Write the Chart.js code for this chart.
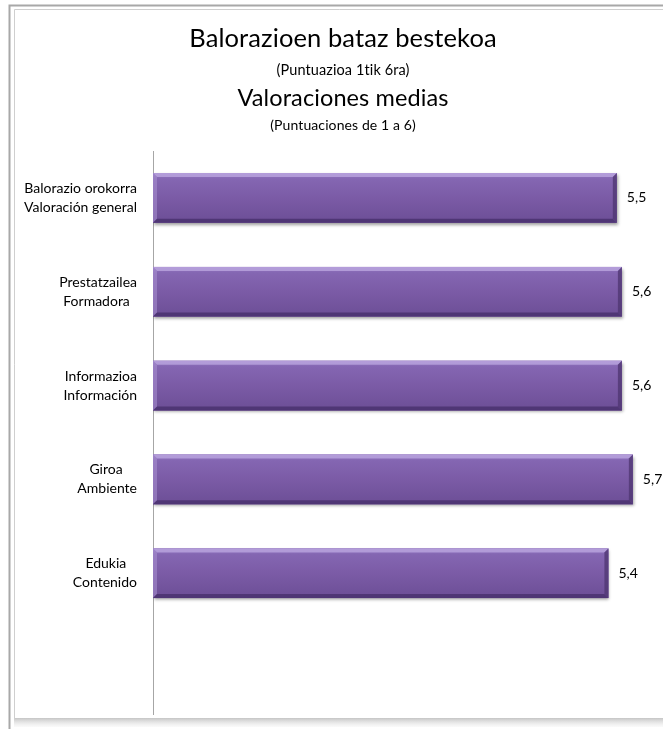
<!DOCTYPE html>
<html>
<head>
<meta charset="utf-8">
<script src="https://cdn.jsdelivr.net/npm/chart.js@4.4.1/dist/chart.umd.min.js"></script>
<style>
  html, body { margin: 0; padding: 0; background: #ffffff; }
  #wrap { position: relative; width: 663px; height: 729px; }
</style>
</head>
<body>
<div id="wrap"><canvas id="c" width="663" height="729"></canvas></div>
<script>
// ---- Data ----
const categoriesEu = ['Balorazio orokorra', 'Prestatzailea', 'Informazioa', 'Giroa', 'Edukia', ''];
const categoriesEs = ['Valoración general', 'Formadora', 'Información', 'Ambiente', 'Contenido', ''];
const values = [5.50, 5.56, 5.56, 5.69, 5.40, null];
const titleLines = ['Balorazioen bataz bestekoa', '(Puntuazioa 1tik 6ra)', 'Valoraciones medias', '(Puntuaciones de 1 a 6)'];

const FONT = 'Lato, "Open Sans", sans-serif';
const TICK_SIZE = 14;

const measureCtx = document.createElement('canvas').getContext('2d');
function centeredLines(a, b) {
  measureCtx.font = TICK_SIZE + 'px ' + FONT;
  const wa = measureCtx.measureText(a).width;
  const wb = measureCtx.measureText(b).width;
  const ws = measureCtx.measureText(' ').width;
  const n = Math.max(0, Math.round(Math.abs(wa - wb) / 2 / ws));
  const pad = ' '.repeat(n);
  if (wa < wb) return [a + pad, b];
  return [a, b + pad];
}

const framePlugin = {
  id: 'frame',
  beforeDraw(chart) {
    const ctx = chart.ctx;
    ctx.save();
    ctx.fillStyle = '#ffffff';
    ctx.fillRect(0, 0, chart.width, chart.height);
    const g = ctx.createLinearGradient(0, 718, 0, 727);
    g.addColorStop(0, 'rgba(150,150,150,0.55)');
    g.addColorStop(1, 'rgba(230,230,230,0.2)');
    ctx.fillStyle = g;
    ctx.fillRect(14, 718, chart.width, 9);
    ctx.strokeStyle = '#a8a8a8';
    ctx.lineWidth = 2;
    ctx.beginPath();
    ctx.moveTo(9.5, 729);
    ctx.lineTo(9.5, 5.5);
    ctx.lineTo(chart.width + 5, 5.5);
    ctx.stroke();
    ctx.strokeStyle = '#cfcfcf';
    ctx.lineWidth = 1;
    ctx.beginPath();
    ctx.moveTo(14.5, 719);
    ctx.lineTo(14.5, 9.5);
    ctx.lineTo(chart.width + 5, 9.5);
    ctx.stroke();
    ctx.restore();
  }
};

const titlePlugin = {
  id: 'titleBlock',
  afterDraw(chart) {
    const ctx = chart.ctx;
    const cx = 343;
    const spec = [
      { size: 25.5, y: 39 },
      { size: 14.5, y: 70 },
      { size: 23.5, y: 98 },
      { size: 14, y: 125 }
    ];
    ctx.save();
    ctx.fillStyle = '#000000';
    ctx.textAlign = 'center';
    ctx.textBaseline = 'middle';
    titleLines.forEach((t, i) => {
      ctx.font = spec[i].size + 'px ' + FONT;
      ctx.letterSpacing = '0.1px';
      ctx.fillText(t, cx, spec[i].y);
    });
    ctx.restore();
  }
};

const barStylePlugin = {
  id: 'barStyle',
  beforeDatasetDraw(chart) {
    const ctx = chart.ctx;
    ctx.save();
    ctx.shadowColor = 'rgba(0,0,0,0.38)';
    ctx.shadowBlur = 3;
    ctx.shadowOffsetX = 1;
    ctx.shadowOffsetY = 2;
  },
  afterDatasetDraw(chart, args) {
    const ctx = chart.ctx;
    ctx.restore();
    const meta = chart.getDatasetMeta(args.index);
    ctx.save();
    meta.data.forEach((el, i) => {
      if (values[i] == null) return;
      const left = Math.min(el.base, el.x);
      const right = Math.max(el.base, el.x);
      const top = el.y - el.height / 2;
      const bot = el.y + el.height / 2;
      const w = right - left, h = bot - top;
      const g = ctx.createLinearGradient(0, top, 0, bot);
      g.addColorStop(0, '#9478c2');
      g.addColorStop(0.12, '#8466b2');
      g.addColorStop(0.5, '#7b5ba6');
      g.addColorStop(1, '#6c4e96');
      ctx.fillStyle = g;
      ctx.fillRect(left, top, w, h);
      const b = 4;
      ctx.fillStyle = 'rgba(190,170,225,0.75)';
      ctx.beginPath();
      ctx.moveTo(left, top); ctx.lineTo(right, top); ctx.lineTo(right - b, top + b); ctx.lineTo(left + b, top + b); ctx.closePath();
      ctx.fill();
      ctx.fillStyle = 'rgba(170,145,210,0.55)';
      ctx.beginPath();
      ctx.moveTo(left, top); ctx.lineTo(left + b, top + b); ctx.lineTo(left + b, bot - b); ctx.lineTo(left, bot); ctx.closePath();
      ctx.fill();
      ctx.fillStyle = 'rgba(70,45,105,0.75)';
      ctx.beginPath();
      ctx.moveTo(left, bot); ctx.lineTo(left + b, bot - b); ctx.lineTo(right - b, bot - b); ctx.lineTo(right, bot); ctx.closePath();
      ctx.fill();
      ctx.fillStyle = 'rgba(80,55,115,0.8)';
      ctx.beginPath();
      ctx.moveTo(right, top); ctx.lineTo(right, bot); ctx.lineTo(right - b, bot - b); ctx.lineTo(right - b, top + b); ctx.closePath();
      ctx.fill();
      ctx.fillStyle = '#000000';
      ctx.font = TICK_SIZE + 'px ' + FONT;
      ctx.textAlign = 'left';
      ctx.textBaseline = 'middle';
      ctx.fillText(values[i].toFixed(1).replace('.', ','), right + 10, el.y);
    });
    ctx.restore();
  }
};

new Chart(document.getElementById('c'), {
  type: 'bar',
  data: {
    labels: categoriesEu.map((eu, i) => eu ? centeredLines(eu, categoriesEs[i]) : ''),
    datasets: [{
      data: values,
      backgroundColor: '#7b5ba6',
      borderWidth: 0,
      categoryPercentage: 1,
      barPercentage: 0.53
    }]
  },
  options: {
    indexAxis: 'y',
    responsive: false,
    animation: false,
    devicePixelRatio: 1,
    layout: { padding: { top: 151, bottom: 15, left: 0, right: 4 } },
    plugins: {
      legend: { display: false },
      title: { display: false },
      tooltip: { enabled: false }
    },
    scales: {
      x: { display: false, min: 0, max: 6 },
      y: {
        afterFit(scale) { scale.width = 153; scale.paddingTop = 0; scale.paddingBottom = 0; },
        grid: { display: false, drawTicks: false },
        border: { display: true, color: '#a6a6a6', width: 1 },
        ticks: {
          color: '#000000',
          padding: 16,
          font: { family: FONT, size: TICK_SIZE, lineHeight: 1.35 }
        }
      }
    }
  },
  plugins: [framePlugin, titlePlugin, barStylePlugin]
});
</script>
</body>
</html>
